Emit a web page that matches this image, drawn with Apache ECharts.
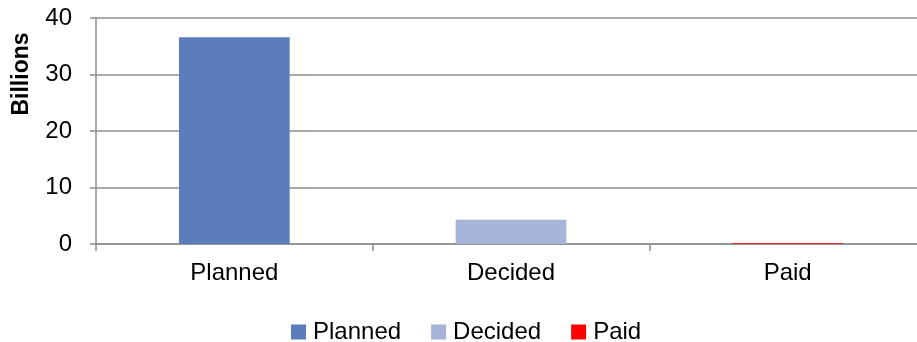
<!DOCTYPE html>
<html>
<head>
<meta charset="utf-8">
<script src="https://cdn.jsdelivr.net/npm/echarts@6/dist/echarts.min.js"></script>
<style>
  html, body { margin: 0; padding: 0; background: #fff; }
  #chart { width: 917px; height: 342px; }
</style>
</head>
<body>
<div id="chart"></div>
<script>
// Amounts in billions, one stage per category
const categories = ['Planned', 'Decided', 'Paid'];
const plannedValues = [36.6, null, null];
const decidedValues = [null, 4.3, null];
const paidValues = [null, null, 0.15];
const yTicks = [0, 10, 20, 30, 40];

const FONT = '"Liberation Sans", Arial, sans-serif';
const GRID_COLOR = '#8f8f8f';

const chart = echarts.init(document.getElementById('chart'), null, { renderer: 'canvas' });

function barSeries(name, data, color) {
  return {
    name: name,
    type: 'bar',
    stack: 'stage',
    barWidth: '40%',
    data: data,
    itemStyle: { color: color },
    emphasis: { disabled: true }
  };
}

chart.setOption({
  animation: false,
  textStyle: { fontFamily: FONT },
  // the plot area runs a little past the right edge of the canvas
  grid: {
    left: 96, width: 830, top: 18, bottom: 98,
    containLabel: false,
    outerBoundsMode: 'none'
  },
  legend: {
    left: 286,
    top: 315,
    itemWidth: 15,
    itemHeight: 15,
    itemGap: 30,
    icon: 'rect',
    textStyle: { fontFamily: FONT, fontSize: 24, color: '#000', padding: [0, 0, 0, 2] },
    data: categories
  },
  xAxis: {
    type: 'category',
    data: categories,
    boundaryGap: true,
    axisLine: { show: true, lineStyle: { color: GRID_COLOR, width: 1.5 } },
    axisTick: { show: true, length: 7, alignWithLabel: false, lineStyle: { color: GRID_COLOR, width: 1.5 } },
    axisLabel: { margin: 17, fontSize: 24, color: '#000', fontFamily: FONT }
  },
  yAxis: {
    type: 'value',
    min: yTicks[0],
    max: yTicks[yTicks.length - 1],
    interval: 10,
    axisLine: { show: true, lineStyle: { color: GRID_COLOR, width: 1.5 } },
    axisTick: { show: true, length: 6, lineStyle: { color: GRID_COLOR, width: 1.5 } },
    splitLine: { show: true, lineStyle: { color: GRID_COLOR, width: 1.5 } },
    axisLabel: { margin: 24, fontSize: 24, color: '#000', fontFamily: FONT }
  },
  graphic: [{
    type: 'text',
    x: 22,
    y: 74,
    rotation: Math.PI / 2,
    style: {
      text: 'Billions',
      font: 'bold 23px ' + FONT,
      fill: '#000',
      align: 'center',
      verticalAlign: 'middle'
    }
  }],
  series: [
    barSeries('Planned', plannedValues, '#5b7dbb'),
    barSeries('Decided', decidedValues, '#a5b4d8'),
    barSeries('Paid', paidValues, '#ff0000')
  ]
});
</script>
</body>
</html>
